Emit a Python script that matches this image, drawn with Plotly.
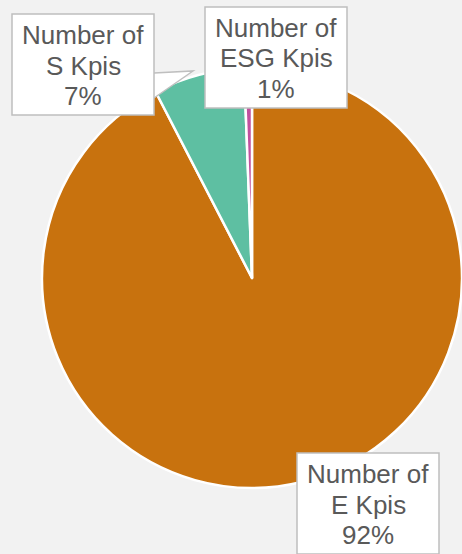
import plotly.graph_objects as go

W, H = 462, 554

categories = ["Number of E Kpis", "Number of S Kpis", "Number of ESG Kpis"]
values = [92.4, 7.0, 0.6]
pct_labels = ["92%", "7%", "1%"]
line1 = ["Number of", "Number of", "Number of"]
line2 = ["E Kpis", "S Kpis", "ESG Kpis"]
colors = ["#C8720E", "#5EBFA2", "#C0509E"]

# label box top-left corners (px) for each category
box_corners = [(297, 453), (12, 14), (205, 7)]
BOX_W, BOX_H = 142, 101
LINE_OFFSETS = [20.5, 51.5, 81.5]

def px_x(x):
    return x / W

def px_y(y):
    return 1 - y / H

fig = go.Figure(go.Pie(
    labels=categories,
    values=values,
    sort=False,
    direction="clockwise",
    rotation=0,
    marker=dict(colors=colors, line=dict(color="white", width=2.5)),
    textinfo="none",
    hoverinfo="skip",
    domain=dict(x=[42 / W, 1.0], y=[px_y(488), px_y(68)]),
    showlegend=False,
))

# callout pointer from S label box to its slice
pointer = [(154, 73), (193, 71), (154, 98)]
path = "M " + " L ".join(f"{px_x(x)},{px_y(y)}" for x, y in pointer)
shapes = [dict(type="path", xref="paper", yref="paper", path=path,
               fillcolor="white", line=dict(color="#BFBFBF", width=1.5),
               layer="above")]

annotations = []
for i in range(len(categories)):
    x0, y0 = box_corners[i]
    shapes.append(dict(type="rect", xref="paper", yref="paper",
                       x0=px_x(x0), x1=px_x(x0 + BOX_W),
                       y0=px_y(y0 + BOX_H), y1=px_y(y0),
                       fillcolor="white", line=dict(color="#BFBFBF", width=1.5),
                       layer="above"))
    for txt, off in zip([line1[i], line2[i], pct_labels[i]], LINE_OFFSETS):
        annotations.append(dict(
            xref="paper", yref="paper",
            x=px_x(x0 + BOX_W / 2), y=px_y(y0 + off),
            xanchor="center", yanchor="middle",
            text=txt, showarrow=False,
            font=dict(family="Arial, Liberation Sans, sans-serif", size=26, color="#595959"),
        ))

fig.update_layout(
    width=W, height=H,
    margin=dict(l=0, r=0, t=0, b=0),
    paper_bgcolor="#F2F2F2",
    plot_bgcolor="#F2F2F2",
    annotations=annotations,
    shapes=shapes,
)

fig.write_html("out.html", config={"displayModeBar": False},
               post_script="document.body.style.margin='0';document.body.style.overflow='hidden';")
